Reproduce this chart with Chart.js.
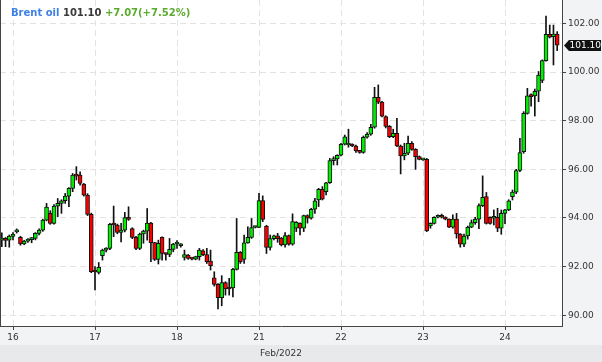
<!DOCTYPE html>
<html>
<head>
<meta charset="utf-8">
<style>
html,body{margin:0;padding:0;background:#f2f3f5;}
canvas{display:block;}
</style>
<script src="https://cdn.jsdelivr.net/npm/chart.js@4/dist/chart.umd.min.js"></script>
</head>
<body>
<canvas id="c" width="602" height="362"></canvas>
<script>
// ---- data (hourly candles, Brent oil, Feb 2022) ----
const opens  = [93.09,93.13,93.09,93.24,93.43,93.20,92.93,93.05,93.11,93.16,93.37,93.50,93.91,94.19,93.78,94.49,94.60,94.71,94.90,95.22,
95.76,95.76,95.39,94.94,94.15,91.82,91.76,92.45,92.68,92.75,93.74,93.71,93.41,93.50,94.02,93.56,93.20,92.75,93.34,93.46,
93.79,92.99,92.30,93.20,92.54,92.50,92.71,92.93,92.86,92.38,92.48,92.34,92.31,92.41,92.65,92.50,92.23,91.54,91.27,90.72,
91.34,91.16,91.13,91.89,92.59,92.30,92.98,93.20,93.61,93.61,94.72,93.67,92.79,93.15,93.27,93.17,92.89,93.28,92.92,93.58,
93.78,93.58,94.10,93.99,94.36,94.74,95.18,95.08,95.45,96.36,96.43,96.58,97.03,97.00,97.00,96.96,96.76,96.69,97.32,97.44,
97.73,98.96,98.76,98.17,97.77,97.34,97.48,96.96,96.55,96.66,97.07,96.82,96.52,96.39,96.41,93.67,93.78,94.03,94.06,94.03,
93.95,93.62,93.95,93.34,92.92,93.26,93.62,93.81,93.95,94.51,94.88,94.03,93.99,94.03,93.58,94.19,94.33,94.88,95.06,95.95,
96.73,98.30,99.02,99.02,99.21,99.65,100.47,101.55,101.45,101.56];
const highs  = [93.39,93.20,93.30,93.40,93.55,93.25,93.08,93.15,93.20,93.40,93.55,93.95,94.60,94.30,94.55,94.80,94.75,95.01,95.25,95.83,
96.11,95.90,95.42,95.00,94.20,92.00,92.17,92.72,92.78,93.78,94.49,93.75,93.78,94.23,94.46,93.60,93.25,93.38,93.50,94.39,
93.82,93.00,93.09,93.23,92.56,93.16,92.96,93.07,92.95,92.68,92.50,92.36,92.43,92.75,92.70,92.75,92.68,91.79,91.30,91.63,
91.38,91.52,91.93,93.98,92.62,93.30,93.64,93.98,93.66,95.01,94.91,93.70,93.30,93.30,93.37,93.20,93.40,93.30,94.17,93.85,
93.80,94.12,94.13,94.40,94.81,95.22,95.29,95.47,96.45,96.52,96.60,97.07,97.41,97.65,97.05,97.00,96.78,97.37,97.51,97.85,
99.37,99.47,98.80,98.20,97.80,97.65,98.10,97.00,97.07,97.37,97.14,96.85,96.55,96.45,96.45,93.80,94.05,94.13,94.16,94.05,
93.97,94.13,94.19,93.36,93.34,93.67,93.92,94.03,94.58,95.73,95.05,94.05,94.33,94.40,94.33,94.36,94.75,95.15,96.00,97.27,
98.37,99.33,99.10,99.30,100.02,100.50,102.30,101.93,101.93,101.66];
const lows   = [92.82,92.82,92.80,93.10,93.38,92.88,92.90,93.00,92.98,93.10,93.30,93.45,93.88,93.74,93.75,94.05,94.19,94.60,94.46,95.08,
95.56,95.35,94.90,94.10,91.75,91.04,91.70,92.27,92.60,92.70,93.23,93.35,93.02,93.43,93.90,93.15,92.70,92.70,92.96,93.09,
92.20,92.25,92.11,92.27,92.27,92.41,92.61,92.75,92.80,92.27,92.30,92.28,92.28,92.27,92.45,92.13,91.86,91.20,90.26,90.39,
90.83,90.83,90.76,91.86,92.13,92.13,92.96,93.16,93.59,93.60,93.85,92.54,92.68,93.10,93.00,92.85,92.80,92.88,92.88,93.44,
93.30,93.44,93.79,93.95,94.19,94.47,94.74,94.95,95.42,96.18,96.18,96.55,97.00,96.91,96.93,96.69,96.66,96.66,97.28,97.40,
97.69,98.70,98.15,97.70,97.30,97.30,96.93,95.81,96.39,96.60,96.78,96.00,96.39,96.37,93.44,93.58,93.75,94.00,94.00,93.92,
93.60,93.58,93.17,92.80,92.82,93.13,93.60,93.74,93.56,94.47,93.75,93.75,93.71,93.44,93.33,93.77,94.30,94.74,95.00,95.90,
96.66,98.27,98.60,98.19,98.78,99.56,100.45,101.40,100.29,100.88];
const closes = [93.13,93.08,93.26,93.34,93.50,92.93,93.05,93.13,93.15,93.37,93.50,93.91,94.45,93.78,94.49,94.60,94.71,94.90,95.22,95.76,
95.72,95.42,94.94,94.15,91.79,91.78,91.97,92.68,92.75,93.74,93.71,93.41,93.50,94.02,93.94,93.20,92.75,93.34,93.46,93.79,
92.99,92.30,92.96,92.54,92.50,92.71,92.93,92.96,92.86,92.50,92.34,92.31,92.41,92.68,92.48,92.20,92.04,91.27,90.72,91.34,
91.08,91.08,91.89,92.59,92.20,92.98,93.20,93.61,93.64,94.72,93.94,92.79,93.15,93.27,93.15,92.89,93.28,92.92,93.85,93.82,
93.58,94.10,93.99,94.36,94.71,95.18,94.77,95.45,96.36,96.43,96.58,97.03,97.34,97.03,96.96,96.76,96.70,97.32,97.44,97.73,
98.96,98.76,98.19,97.76,97.34,97.48,96.96,96.55,96.66,97.07,96.82,96.52,96.41,96.43,93.47,93.78,94.03,94.06,94.03,93.95,
93.62,93.95,93.34,92.92,93.26,93.62,93.81,93.95,94.51,94.85,93.78,93.78,94.03,93.58,94.19,94.33,94.71,95.06,95.95,96.69,
98.30,99.02,98.99,99.21,99.87,100.47,101.55,101.43,101.56,101.10];
const firstIndex = -3;                 // index of the first candle (day "16" starts at index 0)
const dayLabels = ['16','17','18','21','22','23','24'];
const dayTicks  = [0,22,44,66,88,110,132];
const priceTicks = [90,92,94,96,98,100,102];
const axisTitle = 'Feb/2022';
const headerName = 'Brent oil';
const headerPrice = '101.10';
const headerChange = '+7.07(+7.52%)';
const lastPrice = 101.10;

// ---- build datasets from the arrays ----
const bodies = opens.map((o, i) => ({x: firstIndex + i, y: [o, closes[i]]}));
const wicks  = lows.map((l, i) => ({x: firstIndex + i, y: [l, highs[i]]}));
const bodyColors = opens.map((o, i) => closes[i] >= o ? '#00ee00' : '#f80000');

const FONT = 'DejaVu Sans';

const bgPlugin = {
  id: 'bg',
  beforeDraw(chart) {
    const {ctx, chartArea: a} = chart;
    ctx.save();
    ctx.fillStyle = '#f2f3f5';
    ctx.fillRect(0, 0, chart.width, chart.height);
    ctx.fillStyle = '#e8e9eb';
    ctx.fillRect(0, 345, chart.width, chart.height - 345);
    ctx.fillStyle = '#ffffff';
    ctx.fillRect(a.left, a.top, a.right - a.left, a.bottom - a.top);
    ctx.restore();
  }
};

const overlayPlugin = {
  id: 'overlay',
  afterDraw(chart) {
    const {ctx, chartArea: a} = chart;
    ctx.save();
    // left frame line
    ctx.strokeStyle = '#444';
    ctx.lineWidth = 1;
    ctx.beginPath();
    ctx.moveTo(a.left + 0.5, a.top);
    ctx.lineTo(a.left + 0.5, a.bottom);
    ctx.stroke();
    // header
    ctx.font = 'bold 10px "' + FONT + '"';
    ctx.textBaseline = 'alphabetic';
    ctx.textAlign = 'left';
    let x = 11;
    const y = 15.5;
    ctx.fillStyle = '#3d80e6';
    ctx.fillText(headerName, x, y);
    x += ctx.measureText(headerName + ' ').width;
    ctx.fillStyle = '#3a3a3a';
    ctx.fillText(headerPrice, x, y);
    x += ctx.measureText(headerPrice + ' ').width;
    ctx.fillStyle = '#5cab2e';
    ctx.fillText(headerChange, x, y);
    // last price tag
    const py = Math.round(chart.scales.y.getPixelForValue(lastPrice)) + 0.5;
    ctx.fillStyle = '#111';
    ctx.beginPath();
    ctx.moveTo(564, py);
    ctx.lineTo(569, py - 5.5);
    ctx.lineTo(601, py - 5.5);
    ctx.lineTo(601, py + 5.5);
    ctx.lineTo(569, py + 5.5);
    ctx.closePath();
    ctx.fill();
    ctx.fillStyle = '#ffffff';
    ctx.font = '9px "' + FONT + '"';
    ctx.textBaseline = 'middle';
    ctx.fillText(lastPrice.toFixed(2), 569.5, py + 0.5);
    ctx.restore();
  }
};

new Chart(document.getElementById('c').getContext('2d'), {
  type: 'bar',
  data: {
    datasets: [
      {
        data: bodies,
        backgroundColor: bodyColors,
        borderColor: '#111',
        borderWidth: 1,
        borderSkipped: false,
        barThickness: 4,
        minBarLength: 2,
        grouped: false,
        order: 0
      },
      {
        data: wicks,
        backgroundColor: '#111',
        borderWidth: 0,
        barThickness: 1,
        grouped: false,
        order: 1
      }
    ]
  },
  options: {
    responsive: false,
    animation: false,
    devicePixelRatio: 1,
    layout: {padding: 0},
    plugins: {legend: {display: false}, tooltip: {enabled: false}},
    scales: {
      x: {
        type: 'linear',
        position: 'bottom',
        min: -3.488,
        max: 147.29,
        offset: false,
        afterBuildTicks: s => { s.ticks = dayTicks.map(v => ({value: v})); },
        afterFit: s => { s.height = 36; s.paddingLeft = 0; s.paddingRight = 0; },
        ticks: {
          autoSkip: false,
          maxRotation: 0,
          padding: 2,
          color: '#333',
          font: {family: FONT, size: 9},
          callback: v => dayLabels[dayTicks.indexOf(v)]
        },
        grid: {offset: false, color: '#e3e3e3', lineWidth: 1, tickColor: '#444', tickLength: 4},
        border: {display: true, color: '#444', width: 1, dash: [6, 4]},
        title: {display: true, text: axisTitle, color: '#333', font: {family: FONT, size: 9}, padding: {top: 0, bottom: 3}}
      },
      y: {
        type: 'linear',
        position: 'right',
        min: 89.56,
        max: 102.96,
        beginAtZero: false,
        afterBuildTicks: s => { s.ticks = priceTicks.map(v => ({value: v})); },
        afterFit: s => { s.width = 40; s.paddingTop = 0; s.paddingBottom = 0; },
        ticks: {
          padding: 2,
          color: '#333',
          font: {family: FONT, size: 9},
          callback: v => Number(v).toFixed(2)
        },
        grid: {color: '#e3e3e3', lineWidth: 1, tickColor: '#444', tickLength: 4},
        border: {display: true, color: '#444', width: 1, dash: [6, 4]}
      }
    }
  },
  plugins: [bgPlugin, overlayPlugin]
});
</script>
</body>
</html>
